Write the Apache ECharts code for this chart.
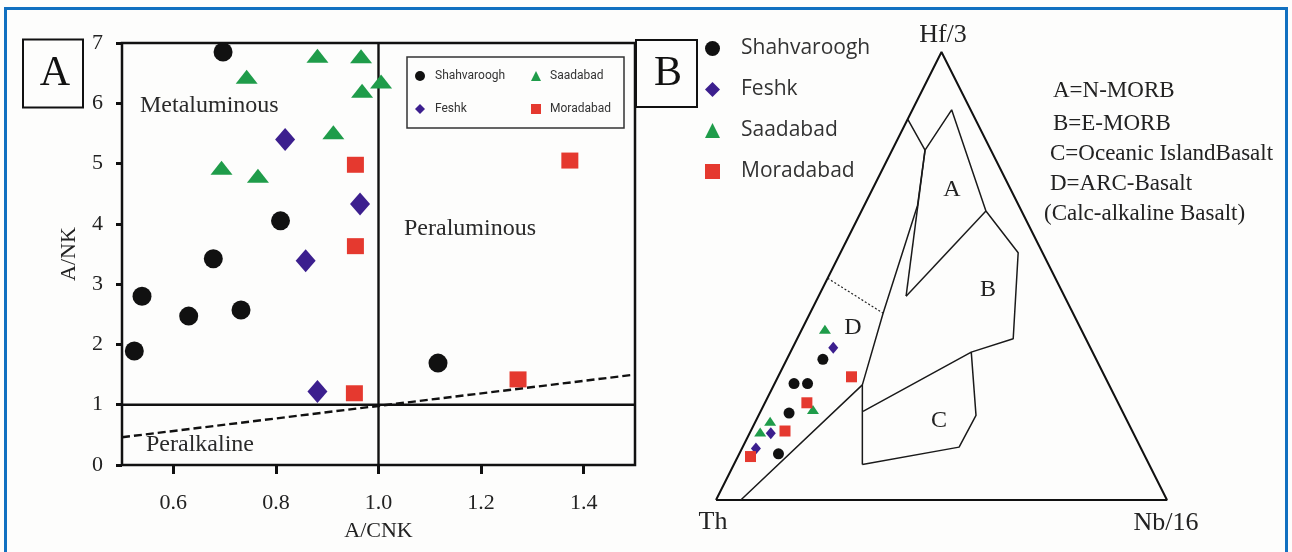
<!DOCTYPE html>
<html>
<head>
<meta charset="utf-8">
<script src="https://cdn.jsdelivr.net/npm/echarts@6/dist/echarts.min.js"></script>
<style>
  html, body { margin: 0; padding: 0; background: #fdfdfc; }
  #chart { width: 1292px; height: 552px; }
</style>
</head>
<body>
<div id="chart"></div>
<script>
// ---------- Panel A: A/NK vs A/CNK (Shand index) ----------
const xTickValuesA = [0.6, 0.8, 1.0, 1.2, 1.4];
const shahvaroughA = [[0.697, 6.85], [0.539, 2.80], [0.630, 2.47], [0.732, 2.57], [0.678, 3.42], [0.809, 4.05], [0.524, 1.89], [1.116, 1.69]];
const feshkA = [[0.818, 5.40], [0.964, 4.33], [0.858, 3.39], [0.881, 1.22]];
const saadabadA = [[0.881, 6.79], [0.966, 6.78], [0.743, 6.44], [1.005, 6.36], [0.968, 6.21], [0.912, 5.52], [0.694, 4.93], [0.765, 4.80]];
const moradabadA = [[0.955, 4.98], [0.955, 3.63], [0.953, 1.19], [1.272, 1.42], [1.373, 5.05]];
// field boundaries in (A/CNK, A/NK)
const acnkOneLine = [[1.0, 0], [1.0, 7]];
const anknOneLine = [[0.5, 1], [1.5, 1]];
const peralkalineLine = [[0.5, 0.46], [1.5, 1.50]];

// ---------- Panel B: Hf/3 - Th - Nb/16 ternary, compositions as [Th, Hf/3, Nb/16] % ----------
const shahvaroughB = [[60.6, 31.4, 8.0], [69.7, 26.0, 4.3], [66.7, 26.0, 7.3], [74.1, 19.4, 6.5], [81.0, 10.3, 8.7]];
const feshkB = [[57.0, 34.0, 9.0], [80.4, 14.9, 4.7], [85.4, 11.5, 3.1]];
const saadabadB = [[56.8, 38.1, 5.1], [68.4, 20.2, 11.4], [79.2, 17.6, 3.2], [82.6, 15.2, 2.2]];
const moradabadB = [[56.2, 27.5, 16.3], [69.0, 21.7, 9.3], [77.0, 15.4, 7.6], [87.5, 9.7, 2.8]];
// ternary outline and field boundaries
const ternaryOutline = [[100, 0, 0], [0, 100, 0], [0, 0, 100], [100, 0, 0]];
const fieldDBoundary = [[94.5, 0, 5.5], [54.7, 25.7, 19.6], [42.1, 41.7, 16.2], [22.4, 65.8, 11.8], [14.6, 78.1, 7.3], [15.0, 85.0, 0]];
const fieldATop = [[14.6, 78.1, 7.3], [4.2, 87.1, 8.7], [7.9, 64.5, 27.6]];
const fieldALeft = [[14.6, 78.1, 7.3], [35.1, 45.5, 19.4]];
const fieldABBoundary = [[7.9, 64.5, 27.6], [35.1, 45.5, 19.4]];
const fieldBRight = [[7.9, 64.5, 27.6], [5.4, 55.2, 39.4], [16.1, 36.0, 47.9], [26.9, 33.0, 40.1]];
const fieldCOutline = [[57.5, 19.8, 22.7], [26.9, 33.0, 40.1], [32.9, 18.9, 48.2], [40.2, 11.8, 48.0], [63.6, 7.9, 28.5]];
const fieldCLeft = [[54.7, 25.7, 19.6], [63.6, 7.9, 28.5]];
const arcDivider = [[50.5, 49.5, 0], [42.1, 41.7, 16.2]];

const C_SHAH = '#111111', C_FESHK = '#3c1f8e', C_SAAD = '#1f9c4a', C_MORA = '#e5392f';
const SERIF = '"Liberation Serif", "Times New Roman", serif';
const SMALL_SANS = 'Roboto, "Liberation Sans", sans-serif';

// ternary [Th, Hf/3, Nb/16] -> cartesian (Th at origin, Nb/16 at x=1, Hf/3 at apex)
function tern(p) {
  const s = p[0] + p[1] + p[2];
  const h = p[1] / s, n = p[2] / s;
  return [n + h / 2, h];
}
const ternList = arr => arr.map(tern);

function lineA(data, extra) {
  return Object.assign({
    type: 'line', xAxisIndex: 0, yAxisIndex: 0, data: data, symbol: 'none', silent: true,
    lineStyle: { color: '#111', width: 2.4 }, z: 1
  }, extra || {});
}
function lineB(data, extra) {
  return Object.assign({
    type: 'line', xAxisIndex: 1, yAxisIndex: 1, data: ternList(data), symbol: 'none', silent: true,
    lineStyle: { color: '#1a1a1a', width: 1.5 }, z: 1
  }, extra || {});
}

const chart = echarts.init(document.getElementById('chart'), null, { renderer: 'canvas' });

const option = {
  backgroundColor: '#fdfdfc',
  animation: false,
  grid: [
    { left: 122, top: 43, width: 513, height: 422, show: true, borderColor: '#111', borderWidth: 2.5, backgroundColor: 'transparent' },
    { left: 716, top: 52, width: 451, height: 448, show: false }
  ],
  xAxis: [
    {
      gridIndex: 0, type: 'value', min: 0.5, max: 1.5,
      name: 'A/CNK', nameLocation: 'middle', nameGap: 55,
      nameTextStyle: { fontFamily: SERIF, fontSize: 22, color: '#222' },
      axisLine: { show: false },
      axisTick: { show: true, inside: false, length: 9, customValues: xTickValuesA, lineStyle: { color: '#111', width: 3 } },
      axisLabel: { customValues: xTickValuesA, margin: 27, fontFamily: SERIF, fontSize: 22, color: '#222', formatter: v => v.toFixed(1) },
      splitLine: { show: false }
    },
    { gridIndex: 1, type: 'value', min: 0, max: 1, show: false }
  ],
  yAxis: [
    {
      gridIndex: 0, type: 'value', min: 0, max: 7, interval: 1,
      name: 'A/NK', nameLocation: 'middle', nameGap: 42, nameRotate: 90,
      nameTextStyle: { fontFamily: SERIF, fontSize: 22, color: '#222' },
      axisLine: { show: false },
      axisTick: { show: true, inside: false, length: 6, lineStyle: { color: '#111', width: 3 } },
      axisLabel: { margin: 19, fontFamily: SERIF, fontSize: 22, color: '#222' },
      splitLine: { show: false }
    },
    { gridIndex: 1, type: 'value', min: 0, max: 1, show: false }
  ],
  legend: [
    {
      data: [{ name: 'Shahvaroogh', icon: 'circle' }, { name: 'Feshk', icon: 'diamond' }],
      orient: 'vertical', left: 410, top: 65, itemWidth: 10, itemHeight: 10, itemGap: 21, symbolKeepAspect: true,
      selectedMode: false, textStyle: { fontFamily: SMALL_SANS, fontSize: 12, color: '#333', padding: [0, 0, 0, 5] }
    },
    {
      data: [{ name: 'Saadabad', icon: 'triangle' }, { name: 'Moradabad', icon: 'rect' }],
      orient: 'vertical', left: 526, top: 65, itemWidth: 10, itemHeight: 10, itemGap: 21, symbolKeepAspect: true,
      selectedMode: false, textStyle: { fontFamily: SMALL_SANS, fontSize: 12, color: '#333', padding: [0, 0, 0, 4] }
    },
    {
      data: [{ name: 'Shahvaroogh', icon: 'circle' }, { name: 'Feshk', icon: 'diamond' }, { name: 'Saadabad', icon: 'triangle' }, { name: 'Moradabad', icon: 'rect' }],
      orient: 'vertical', left: 700, top: 33, itemWidth: 15, itemHeight: 15, itemGap: 20, symbolKeepAspect: true,
      selectedMode: false, textStyle: { fontFamily: '"Open Sans", sans-serif', fontSize: 21, color: '#333', padding: [0, 0, 0, 16] }
    }
  ],
  series: [
    // Panel A boundaries
    lineA(acnkOneLine),
    lineA(anknOneLine),
    lineA(peralkalineLine, { lineStyle: { color: '#111', width: 2.4, type: [8, 4] } }),
    // Panel A samples
    { name: 'Shahvaroogh', type: 'scatter', xAxisIndex: 0, yAxisIndex: 0, data: shahvaroughA, symbol: 'circle', symbolSize: 19, itemStyle: { color: C_SHAH, opacity: 1 }, z: 5 },
    { name: 'Feshk', type: 'scatter', xAxisIndex: 0, yAxisIndex: 0, data: feshkA, symbol: 'diamond', symbolSize: [20, 23], itemStyle: { color: C_FESHK, opacity: 1 }, z: 5 },
    { name: 'Saadabad', type: 'scatter', xAxisIndex: 0, yAxisIndex: 0, data: saadabadA, symbol: 'triangle', symbolSize: [22, 14], itemStyle: { color: C_SAAD, opacity: 1 }, z: 5 },
    { name: 'Moradabad', type: 'scatter', xAxisIndex: 0, yAxisIndex: 0, data: moradabadA, symbol: 'rect', symbolSize: [17, 16], itemStyle: { color: C_MORA, opacity: 1 }, z: 5 },
    // Panel B ternary frame and discrimination fields
    lineB(ternaryOutline, { lineStyle: { color: '#111', width: 2 } }),
    lineB(fieldDBoundary),
    lineB(fieldATop),
    lineB(fieldALeft),
    lineB(fieldABBoundary),
    lineB(fieldBRight),
    lineB(fieldCOutline),
    lineB(fieldCLeft),
    lineB(arcDivider, { lineStyle: { color: '#222', width: 1.2, type: [2, 2] } }),
    // Panel B samples
    { name: 'Shahvaroogh', type: 'scatter', xAxisIndex: 1, yAxisIndex: 1, data: ternList(shahvaroughB), symbol: 'circle', symbolSize: 11, itemStyle: { color: C_SHAH, opacity: 1 }, z: 5 },
    { name: 'Feshk', type: 'scatter', xAxisIndex: 1, yAxisIndex: 1, data: ternList(feshkB), symbol: 'diamond', symbolSize: [10, 12], itemStyle: { color: C_FESHK, opacity: 1 }, z: 5 },
    { name: 'Saadabad', type: 'scatter', xAxisIndex: 1, yAxisIndex: 1, data: ternList(saadabadB), symbol: 'triangle', symbolSize: [12, 9], itemStyle: { color: C_SAAD, opacity: 1 }, z: 5 },
    { name: 'Moradabad', type: 'scatter', xAxisIndex: 1, yAxisIndex: 1, data: ternList(moradabadB), symbol: 'rect', symbolSize: 11, itemStyle: { color: C_MORA, opacity: 1 }, z: 5 }
  ],
  graphic: [
    // outer frame
    { type: 'rect', shape: { x: 5.5, y: 8.5, width: 1281, height: 600 }, style: { fill: 'none', stroke: '#1170c0', lineWidth: 3 }, z: 100 },
    // panel A: legend box and region names
    { type: 'rect', shape: { x: 407, y: 57, width: 217, height: 71 }, style: { fill: 'none', stroke: '#333', lineWidth: 1.5 }, z: 10 },
    { type: 'text', style: { text: 'Metaluminous', x: 140, y: 106, font: '24px ' + SERIF, fill: '#2a2a2a', verticalAlign: 'middle' }, z: 10 },
    { type: 'text', style: { text: 'Peraluminous', x: 404, y: 229, font: '24px ' + SERIF, fill: '#2a2a2a', verticalAlign: 'middle' }, z: 10 },
    { type: 'text', style: { text: 'Peralkaline', x: 146, y: 445, font: '24px ' + SERIF, fill: '#2a2a2a', verticalAlign: 'middle' }, z: 10 },
    // panel letters
    { type: 'rect', shape: { x: 23, y: 39.5, width: 60, height: 68 }, style: { fill: '#fdfdfc', stroke: '#111', lineWidth: 2 }, z: 20 },
    { type: 'text', style: { text: 'A', x: 55, y: 74, font: '42px ' + SERIF, fill: '#111', align: 'center', verticalAlign: 'middle' }, z: 21 },
    { type: 'rect', shape: { x: 636, y: 40, width: 61, height: 67 }, style: { fill: '#fdfdfc', stroke: '#111', lineWidth: 2 }, z: 20 },
    { type: 'text', style: { text: 'B', x: 668, y: 74, font: '42px ' + SERIF, fill: '#111', align: 'center', verticalAlign: 'middle' }, z: 21 },
    // panel B: apex names
    { type: 'text', style: { text: 'Hf/3', x: 943, y: 35, font: '26px ' + SERIF, fill: '#222', align: 'center', verticalAlign: 'middle' }, z: 10 },
    { type: 'text', style: { text: 'Th', x: 713, y: 522, font: '26px ' + SERIF, fill: '#222', align: 'center', verticalAlign: 'middle' }, z: 10 },
    { type: 'text', style: { text: 'Nb/16', x: 1166, y: 523, font: '26px ' + SERIF, fill: '#222', align: 'center', verticalAlign: 'middle' }, z: 10 },
    // panel B: field letters
    { type: 'text', style: { text: 'A', x: 952, y: 190, font: '24px ' + SERIF, fill: '#222', align: 'center', verticalAlign: 'middle' }, z: 10 },
    { type: 'text', style: { text: 'B', x: 988, y: 290, font: '24px ' + SERIF, fill: '#222', align: 'center', verticalAlign: 'middle' }, z: 10 },
    { type: 'text', style: { text: 'C', x: 939, y: 421, font: '24px ' + SERIF, fill: '#222', align: 'center', verticalAlign: 'middle' }, z: 10 },
    { type: 'text', style: { text: 'D', x: 853, y: 328, font: '24px ' + SERIF, fill: '#222', align: 'center', verticalAlign: 'middle' }, z: 10 },
    // panel B: field key
    { type: 'text', style: { text: 'A=N-MORB', x: 1053, y: 91, font: '23px ' + SERIF, fill: '#222', verticalAlign: 'middle' }, z: 10 },
    { type: 'text', style: { text: 'B=E-MORB', x: 1053, y: 124, font: '23px ' + SERIF, fill: '#222', verticalAlign: 'middle' }, z: 10 },
    { type: 'text', style: { text: 'C=Oceanic IslandBasalt', x: 1050, y: 154, font: '23px ' + SERIF, fill: '#222', verticalAlign: 'middle' }, z: 10 },
    { type: 'text', style: { text: 'D=ARC-Basalt', x: 1050, y: 184, font: '23px ' + SERIF, fill: '#222', verticalAlign: 'middle' }, z: 10 },
    { type: 'text', style: { text: '(Calc-alkaline Basalt)', x: 1044, y: 214, font: '23px ' + SERIF, fill: '#222', verticalAlign: 'middle' }, z: 10 }
  ]
};

chart.setOption(option);
</script>
</body>
</html>
